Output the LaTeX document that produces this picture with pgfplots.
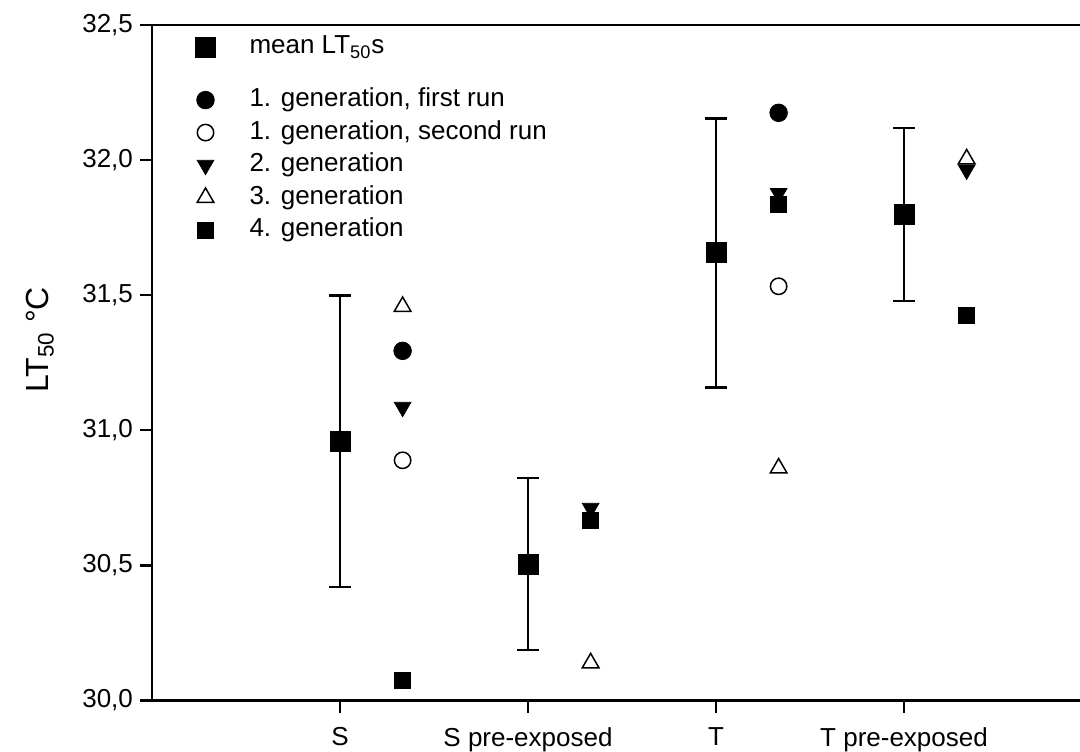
\documentclass[border=0pt]{standalone}
\usepackage{fontspec}
\setmainfont{Liberation Sans}
\usepackage{pgfplots}
\pgfplotsset{compat=1.18}
\begin{document}
\begin{tikzpicture}
\begin{axis}[
  name=ax, at={(0,0)}, anchor=south west,
  scale only axis, width=464pt, height=337.75pt,
  xmin=0, xmax=4.936, ymin=30, ymax=32.5,
  axis x line*=box, axis y line*=left,
  axis line style={line width=1.2pt},
  tick style={line width=1.1pt, black},
  tick align=outside, major tick length=6pt,
  xtick={1,2,3,4}, xticklabels={S,S pre-exposed,T,T pre-exposed},
  xtick pos=bottom, ytick pos=left,
  ytick={30,30.5,31,31.5,32,32.5},
  /pgf/number format/assume math mode=true,
  /pgf/number format/use comma, /pgf/number format/fixed,
  /pgf/number format/fixed zerofill, /pgf/number format/precision=1,
  ticklabel style={font=\fontsize{13}{15}\selectfont},
  xticklabel style={yshift=-4pt},
  ylabel={LT$_{\mathrm{50}}$ °C},
  ylabel style={font=\fontsize{16}{18}\selectfont, at={(axis description cs:-0.1207,0.534)}, anchor=center},
  clip=false,
  legend cell align=left,
  legend style={at={(axis description cs:0.04,1.0227)}, anchor=north west, draw=none, fill=none,
    font=\fontsize{13}{15}\selectfont, row sep=3.75pt, column sep=17pt,
    nodes={inner sep=0pt, text height=9.5pt, text depth=3pt}},
]
\addplot[only marks, mark=square*, mark size=5pt, black,
  error bars/.cd, y dir=both, y explicit, error mark=-,
  error bar style={line width=1.1pt, black},
  error mark options={rotate=90, mark size=5.5pt, line width=1.3pt, black}]
  table[y error=e] {
x y e
1 30.96 0.54
2 30.505 0.318
3 31.657 0.498
4 31.799 0.320
};
\addlegendentry[text height=19.75pt, text depth=13.25pt]{mean LT$_{\mathrm{50}}$s}
\addplot[only marks, mark=*, mark size=4.4pt, black] coordinates {
(1.333,31.294) (3.333,32.175)};
\addlegendentry{1. generation, first run}
\addplot[only marks, mark=o, mark size=4.1pt, black, line width=0.75pt] coordinates {
(1.333,30.889) (3.333,31.533)};
\addlegendentry{1. generation, second run}
\addplot[only marks, mark=triangle*, mark size=4.8pt, black, mark options={rotate=180}] coordinates {
(1.333,31.086) (2.333,30.712) (3.333,31.877) (4.333,31.964)};
\addlegendentry{2. generation}
\addplot[only marks, mark=triangle*, mark size=4.8pt, black, line width=0.75pt, mark options={fill=white}] coordinates {
(1.333,31.458) (2.333,30.139) (3.333,30.86) (4.333,32.004)};
\addlegendentry{3. generation}
\addplot[only marks, mark=square*, mark size=4pt, black] coordinates {
(1.333,30.074) (2.333,30.667) (3.333,31.837) (4.333,31.426)};
\addlegendentry{4. generation}
\end{axis}
\pgfresetboundingbox
\path[use as bounding box] (-76pt,-25.25pt) rectangle (464pt,350.25pt);
\end{tikzpicture}
\end{document}
